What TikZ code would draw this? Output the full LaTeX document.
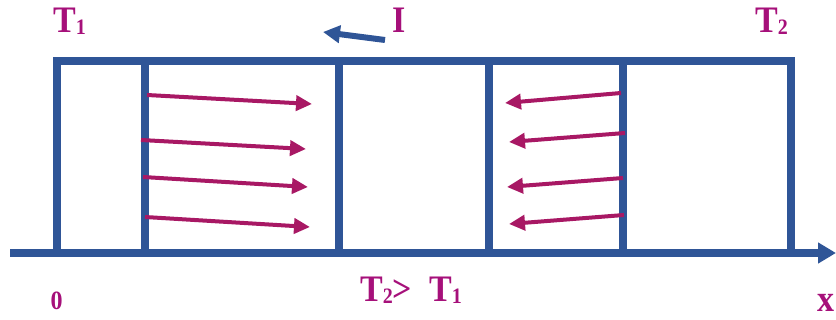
\documentclass[tikz,border=0pt]{standalone}
\usepackage{fontspec}
\setmainfont{Liberation Serif}
\usetikzlibrary{arrows.meta}
\definecolor{barblue}{RGB}{47,85,151}
\definecolor{labmag}{RGB}{166,16,122}
\definecolor{arrmag}{RGB}{168,24,100}
\newcommand{\Tsub}[1]{T\raisebox{-1pt}{\fontsize{20}{20}\selectfont #1}}
\newcommand{\tallt}[1]{\scalebox{1}[1.1]{#1}}
\begin{document}
\begin{tikzpicture}[x=1pt,y=-1pt,
  bar/.style={draw=barblue,line width=8pt,line join=miter},
  flux/.style={draw=arrmag,line width=4pt,-{Triangle[length=16pt,width=15pt]}},
  lab/.style={text=labmag,font=\fontsize{34}{34}\selectfont\bfseries,inner sep=0pt}]
\useasboundingbox (0,0) rectangle (836,320);
% frame
\coordinate (tl) at (57,61.5);
\coordinate (tr) at (791,61.5);
\coordinate (bl) at (57,253);
\coordinate (br) at (791,253);
\coordinate (ax0) at (10,253);
\coordinate (ax1) at (836,253);
\draw[bar,-{Triangle[length=18pt,width=20pt]}] (ax0) -- (ax1);
\draw[bar] (bl) -- (tl) -- (tr) -- (br);
\foreach \n/\xx in {a/145,b/339,c/489,d/623}{
  \coordinate (\n t) at (\xx,61.5);
  \coordinate (\n b) at (\xx,253);
  \draw[bar] (\n t) -- (\n b);
}
% current arrow
\coordinate (i0) at (385,40);
\coordinate (i1) at (323,32);
\draw[draw=barblue,line width=6pt,-{Triangle[length=17pt,width=17pt]}] (i0) -- (i1);
% flux arrows left
\coordinate (l1s) at (147,95);  \coordinate (l1e) at (312,104);
\coordinate (l2s) at (141,140); \coordinate (l2e) at (306,149);
\coordinate (l3s) at (143,177); \coordinate (l3e) at (308,187);
\coordinate (l4s) at (145,217); \coordinate (l4e) at (310,227);
\foreach \k in {1,2,3,4}{\draw[flux] (l\k s) -- (l\k e);}
% flux arrows right
\coordinate (r1s) at (621,93);  \coordinate (r1e) at (505,103);
\coordinate (r2s) at (625,133); \coordinate (r2e) at (509,142);
\coordinate (r3s) at (623,178); \coordinate (r3e) at (507,187);
\coordinate (r4s) at (624,215); \coordinate (r4e) at (509,224);
\foreach \k in {1,2,3,4}{\draw[flux] (r\k s) -- (r\k e);}
% labels
\node[lab,anchor=base west] (t1) at (53,33) {\tallt{\Tsub{1}}};
\node[lab,anchor=base] (ilab) at (399,33) {\tallt{I}};
\node[lab,anchor=base west] (t2) at (755,33) {\tallt{\Tsub{2}}};
\node[lab,anchor=base west] (cmp) at (360,302) {\tallt{\Tsub{2}>\hspace{0.5em}\Tsub{1}}};
\node[lab,anchor=base,font=\fontsize{24}{24}\selectfont\bfseries] (zero) at (56.5,310) {\tallt{0}};
\node[lab,anchor=base] (xlab) at (825.5,312) {\tallt{x}};
\end{tikzpicture}
\end{document}
